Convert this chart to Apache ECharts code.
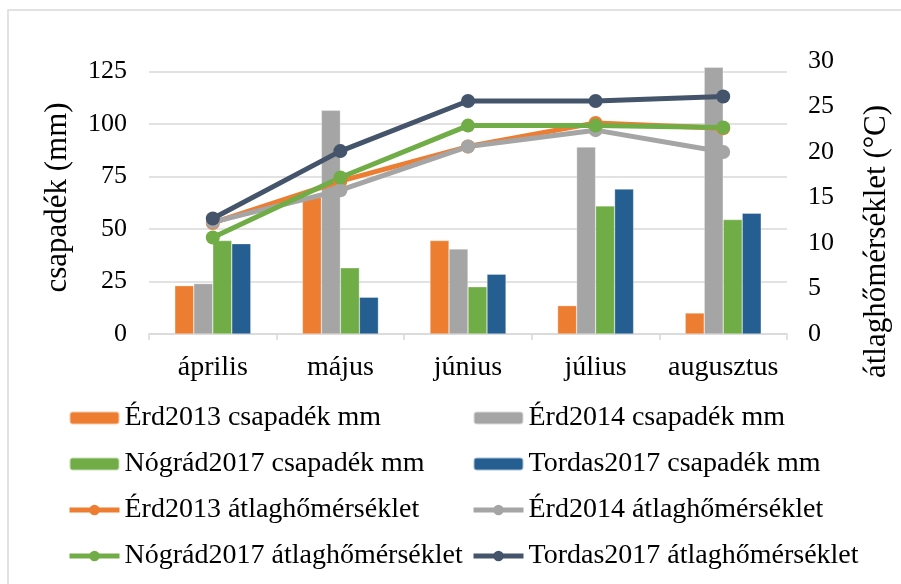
<!DOCTYPE html>
<html>
<head>
<meta charset="utf-8">
<script src="https://cdn.jsdelivr.net/npm/echarts/dist/echarts.min.js"></script>
<style>
  html, body { margin: 0; padding: 0; background: #fff; }
  #chart { width: 901px; height: 584px; }
</style>
</head>
<body>
<div id="chart"></div>
<script>
// havi adatok, leolvasva az ábráról
var months = ['április', 'május', 'június', 'július', 'augusztus'];

var erd2013Rain = [23, 65, 44.5, 13.5, 10];
var erd2014Rain = [24, 106.5, 40.5, 89, 127];
var nograd2017Rain = [44.5, 31.5, 22.5, 61, 54.5];
var tordas2017Rain = [43, 17.5, 28.5, 69, 57.5];

var erd2013Temp = [12.2, 16.8, 20.6, 23.2, 22.6];
var erd2014Temp = [12.3, 15.8, 20.6, 22.4, 20.0];
var nograd2017Temp = [10.6, 17.2, 22.9, 22.9, 22.7];
var tordas2017Temp = [12.7, 20.1, 25.6, 25.6, 26.1];

var font = '"Liberation Serif", "Times New Roman", serif';
var chart = echarts.init(document.getElementById('chart'));

function barSeries(name, color, data) {
    return {
        name: name,
        type: 'bar',
        yAxisIndex: 0,
        barWidth: 19,
        barGap: '0%',
        clip: false,
        itemStyle: { color: color, borderColor: 'rgba(255,255,255,0.6)', borderWidth: 0.5 },
        data: data
    };
}

function lineSeries(name, color, data) {
    return {
        name: name,
        type: 'line',
        yAxisIndex: 1,
        symbol: 'circle',
        symbolSize: 14,
        lineStyle: { color: color, width: 5 },
        itemStyle: { color: color },
        data: data
    };
}

function legendCol(left, names) {
    return {
        left: left,
        top: 404,
        padding: 0,
        orient: 'vertical',
        itemWidth: 50,
        itemHeight: 13,
        itemGap: 18,
        lineStyle: { width: 5 },
        textStyle: { fontFamily: font, fontSize: 28, color: '#000' },
        data: names
    };
}

var option = {
    animation: false,
    backgroundColor: '#fff',
    textStyle: { fontFamily: font },
    graphic: [{
        type: 'rect',
        shape: { x: 8, y: 10, width: 1000, height: 1000 },
        style: { fill: 'none', stroke: '#d9d9d9', lineWidth: 1.5 }
    }],
    grid: { left: 149, right: 114, top: 61, bottom: 250 },
    legend: [
        legendCol(67, ['Érd2013 csapadék mm', 'Nógrád2017 csapadék mm', 'Érd2013 átlaghőmérséklet', 'Nógrád2017 átlaghőmérséklet']),
        legendCol(471, ['Érd2014 csapadék mm', 'Tordas2017 csapadék mm', 'Érd2014 átlaghőmérséklet', 'Tordas2017 átlaghőmérséklet'])
    ],
    xAxis: {
        type: 'category',
        data: months,
        axisLine: { lineStyle: { color: '#d9d9d9', width: 1.5 } },
        axisTick: { show: true, length: 6, lineStyle: { color: '#d9d9d9', width: 1.5 } },
        axisLabel: { fontFamily: font, fontSize: 28, color: '#000', margin: 20, interval: 0 }
    },
    yAxis: [{
        type: 'value',
        min: 0,
        max: 130,
        interval: 25,
        name: 'csapadék (mm)',
        nameLocation: 'middle',
        nameRotate: 90,
        nameGap: 76,
        nameTextStyle: { fontFamily: font, fontSize: 31, color: '#000' },
        axisLine: { show: false },
        axisTick: { show: false },
        axisLabel: { fontFamily: font, fontSize: 26, color: '#000', margin: 22, showMaxLabel: false },
        splitLine: { show: true, showMaxLine: false, lineStyle: { color: '#d9d9d9', width: 1.5 } }
    }, {
        type: 'value',
        min: 0,
        max: 30,
        interval: 5,
        position: 'right',
        name: 'átlaghőmérséklet (°C)',
        nameLocation: 'middle',
        nameRotate: 90,
        nameGap: 74,
        nameTextStyle: { fontFamily: font, fontSize: 31, color: '#000', padding: [0, 88, 0, 0] },
        axisLine: { show: false },
        axisTick: { show: false },
        axisLabel: { fontFamily: font, fontSize: 26, color: '#000', margin: 21 },
        splitLine: { show: false }
    }],
    series: [
        barSeries('Érd2013 csapadék mm', '#ED7D31', erd2013Rain),
        barSeries('Érd2014 csapadék mm', '#A5A5A5', erd2014Rain),
        barSeries('Nógrád2017 csapadék mm', '#70AD47', nograd2017Rain),
        barSeries('Tordas2017 csapadék mm', '#255E91', tordas2017Rain),
        lineSeries('Érd2013 átlaghőmérséklet', '#ED7D31', erd2013Temp),
        lineSeries('Érd2014 átlaghőmérséklet', '#A5A5A5', erd2014Temp),
        lineSeries('Nógrád2017 átlaghőmérséklet', '#70AD47', nograd2017Temp),
        lineSeries('Tordas2017 átlaghőmérséklet', '#44546A', tordas2017Temp)
    ]
};

chart.setOption(option);
</script>
</body>
</html>
